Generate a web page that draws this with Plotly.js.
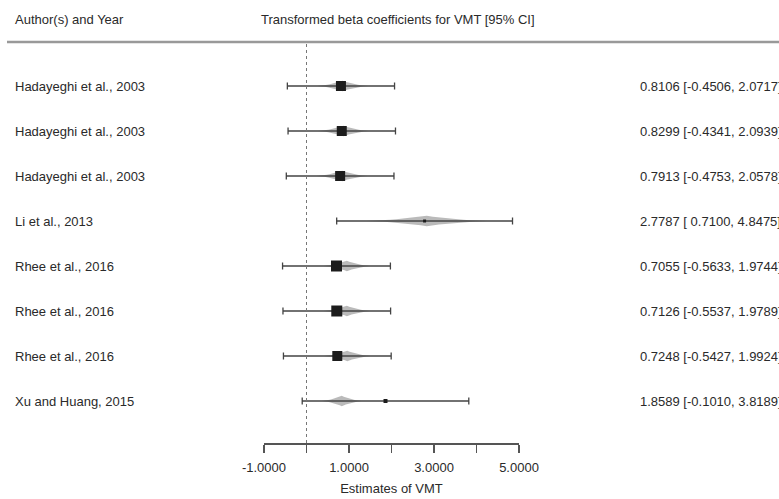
<!DOCTYPE html>
<html>
<head>
<meta charset="utf-8">
<script src="https://cdn.plot.ly/plotly-3.0.1.min.js"></script>
<style>html,body{margin:0;padding:0;background:#fff;}#chart{width:779px;height:499px;}</style>
</head>
<body>
<div id="chart"></div>
<script>
// ---- data ----
const studies = ["Hadayeghi et al., 2003","Hadayeghi et al., 2003","Hadayeghi et al., 2003","Li et al., 2013","Rhee et al., 2016","Rhee et al., 2016","Rhee et al., 2016","Xu and Huang, 2015"];
const estimate = [0.8106, 0.8299, 0.7913, 2.7787, 0.7055, 0.7126, 0.7248, 1.8589];
const ciLower  = [-0.4506, -0.4341, -0.4753, 0.7100, -0.5633, -0.5537, -0.5427, -0.1010];
const ciUpper  = [2.0717, 2.0939, 2.0578, 4.8475, 1.9744, 1.9789, 1.9924, 3.8189];
const weightSize = [10, 10, 10, 3, 11, 11, 10, 4];
// faint grey shading visible behind each estimate (centre and half-length, in VMT units)
const shadeCenter = [0.85, 0.87, 0.84, 2.83, 0.95, 0.95, 0.96, 0.83];
const shadeHalf   = [0.60, 0.60, 0.60, 1.43, 0.55, 0.55, 0.55, 0.47];
const tickVals  = [-1, 0, 1, 2, 3, 4, 5];
const tickText  = ["-1.0000", "", "1.0000", "", "3.0000", "", "5.0000"];
const headerLeft = "Author(s) and Year";
const headerMid  = "Transformed beta coefficients for VMT [95% CI]";
const xTitle = "Estimates of VMT";

// ---- layout helpers ----
const W = 779, H = 499;
const rows = studies.map((_, i) => i + 1);
const fontFam = "Liberation Sans, Arial, sans-serif";
const txtCol = "#2a2a2a";
const py = p => (H - p) / H;   // pixel row -> paper fraction
const px = p => p / W;

const traces = [];
// grey spindles
rows.forEach((r, i) => {
  const xs = [], ys = [];
  const n = 20;
  for (let k = 0; k <= n; k++) {
    const t = -1 + 2 * k / n;
    xs.push(shadeCenter[i] + t * shadeHalf[i]);
    ys.push(r - 0.115 * Math.pow(1 - Math.abs(t), 1.6));
  }
  for (let k = n; k >= 0; k--) {
    const t = -1 + 2 * k / n;
    xs.push(shadeCenter[i] + t * shadeHalf[i]);
    ys.push(r + 0.115 * Math.pow(1 - Math.abs(t), 1.6));
  }
  traces.push({
    type: "scatter", mode: "lines", x: xs, y: ys, fill: "toself",
    fillcolor: "rgba(140,140,140,0.6)", line: {width: 0, color: "rgba(0,0,0,0)"},
    hoverinfo: "skip", showlegend: false
  });
});
// estimates with CI whiskers
traces.push({
  type: "scatter", mode: "markers",
  x: estimate, y: rows,
  marker: {symbol: "square", size: weightSize, color: "#1c1c1c", opacity: 1, line: {width: 0}},
  error_x: {
    type: "data", symmetric: false,
    array: estimate.map((e, i) => ciUpper[i] - e),
    arrayminus: estimate.map((e, i) => e - ciLower[i]),
    color: "#444", thickness: 1.3, width: 3.5
  },
  showlegend: false, hoverinfo: "skip"
});

const annotations = [];
annotations.push({xref: "paper", yref: "paper", x: px(13), y: py(19), text: headerLeft, showarrow: false, xanchor: "left", yanchor: "middle", font: {family: fontFam, size: 13, color: txtCol}});
annotations.push({xref: "paper", yref: "paper", x: px(259), y: py(19), text: headerMid, showarrow: false, xanchor: "left", yanchor: "middle", font: {family: fontFam, size: 13, color: txtCol}});
const fmt = v => (v < 0 ? v.toFixed(4) : "\u00a0" + v.toFixed(4));
rows.forEach((r, i) => {
  annotations.push({xref: "paper", yref: "y", x: px(13), y: r, text: studies[i], showarrow: false, xanchor: "left", yanchor: "middle", font: {family: fontFam, size: 13, color: txtCol}});
  annotations.push({xref: "paper", yref: "y", x: px(638), y: r, text: estimate[i].toFixed(4) + " [" + fmt(ciLower[i]) + ", " + ciUpper[i].toFixed(4) + "]", showarrow: false, xanchor: "left", yanchor: "middle", font: {family: fontFam, size: 13, color: txtCol}});
});

const layout = {
  width: W, height: H,
  margin: {l: 0, r: 0, t: 0, b: 0, pad: 0},
  paper_bgcolor: "#fff", plot_bgcolor: "rgba(0,0,0,0)",
  showlegend: false,
  xaxis: {
    domain: [px(264), px(519)], range: [-1, 5], automargin: false,
    showgrid: false, zeroline: false, showline: true, linecolor: "#555", linewidth: 1.5,
    ticks: "outside", ticklen: 8, tickwidth: 1.5, tickcolor: "#555",
    tickvals: tickVals, ticktext: tickText, ticklabelstandoff: 4,
    tickfont: {family: fontFam, size: 13, color: txtCol},
    title: {text: xTitle, font: {family: fontFam, size: 13, color: txtCol}, standoff: 10},
    fixedrange: true
  },
  yaxis: {
    domain: [py(443), 1], range: [(443 - 41) / 45, -41 / 45], automargin: false,
    visible: false, showgrid: false, zeroline: false, fixedrange: true
  },
  shapes: [
    {type: "line", xref: "paper", yref: "paper", x0: px(7), x1: 1, y0: py(42), y1: py(42), line: {color: "#999", width: 2.5}},
    {type: "line", xref: "x", yref: "paper", x0: 0, x1: 0, y0: py(443), y1: py(44), line: {color: "#777", width: 1, dash: "dot"}}
  ],
  annotations: annotations
};

Plotly.newPlot("chart", traces, layout, {displayModeBar: false, staticPlot: true});
</script>
</body>
</html>
